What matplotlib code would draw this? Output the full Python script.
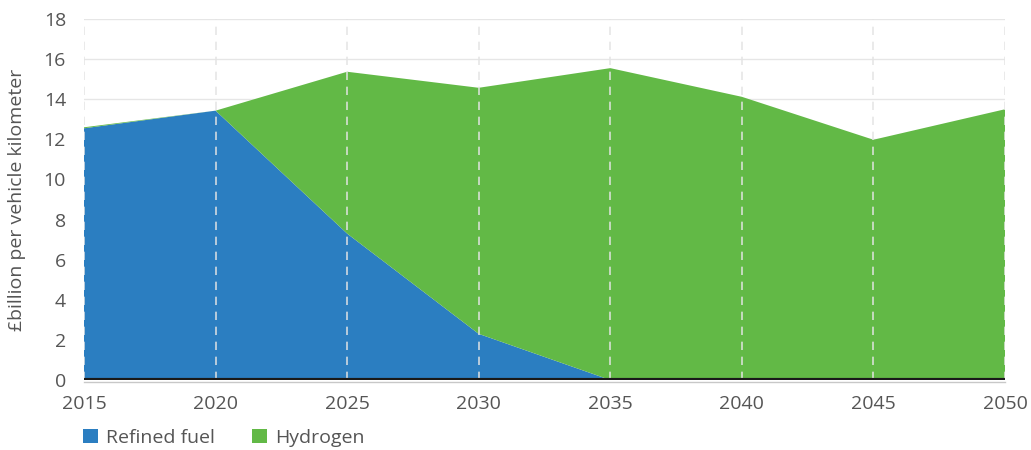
import matplotlib
matplotlib.use("Agg")
import matplotlib.pyplot as plt
from matplotlib.patches import Patch

plt.rcParams['font.family'] = ['Open Sans', 'DejaVu Sans']

years = [2015, 2020, 2025, 2030, 2035, 2040, 2045, 2050]
refined_fuel = [12.55, 13.43, 7.3, 2.3, 0.0, 0.0, 0.0, 0.0]
hydrogen = [0.05, 0.0, 8.07, 12.27, 15.55, 14.12, 11.98, 13.5]
series_names = ["Refined fuel", "Hydrogen"]
colors = ["#2b7ec1", "#62b946"]
y_ticks = [0, 2, 4, 6, 8, 10, 12, 14, 16, 18]

fig = plt.figure(figsize=(10.31, 4.5), dpi=100)
ax = fig.add_axes([84 / 1031, 1 - 380 / 450, (1005 - 84) / 1031, (380 - 19) / 450])

ax.stackplot(years, refined_fuel, hydrogen, colors=colors, linewidth=0, zorder=2)

ax.set_xlim(years[0], years[-1])
ax.set_ylim(0, 18)
ax.set_xticks(years)
ax.set_yticks(y_ticks)

# horizontal grid behind, dashed verticals in front of the areas
for t in y_ticks[1:]:
    ax.axhline(t, color="#e6e6e6", lw=1, zorder=1)
for x in years:
    ax.axvline(x, color="#e4e4e4", lw=1.2, ls=(0, (5, 4)), zorder=3, alpha=0.9)

# dark baseline with a light rule just beneath it
ax.axhline(0, color="#1a1a1a", lw=3, zorder=4)
ax.plot([years[0], years[-1]], [-0.12, -0.12], color="#c8c8c8", lw=1, zorder=3,
        clip_on=False)

for s in ax.spines.values():
    s.set_visible(False)
ax.tick_params(axis="both", length=0, labelsize=14, colors="#555555")
ax.tick_params(axis="x", pad=11)
ax.tick_params(axis="y", pad=13)
ax.set_ylabel("£billion per vehicle kilometer", fontsize=14, color="#555555", labelpad=13)

handles = [Patch(facecolor=c, edgecolor="none") for c in colors]
fig.legend(handles, series_names, loc="center left", bbox_to_anchor=(83 / 1031, 1 - 438 / 450),
           borderaxespad=0, borderpad=0,
           ncol=2, frameon=False, fontsize=14, handlelength=0.75, handleheight=0.75,
           handletextpad=0.45, columnspacing=1.9, labelcolor="#555555")

fig.savefig("out.png", dpi=100)
